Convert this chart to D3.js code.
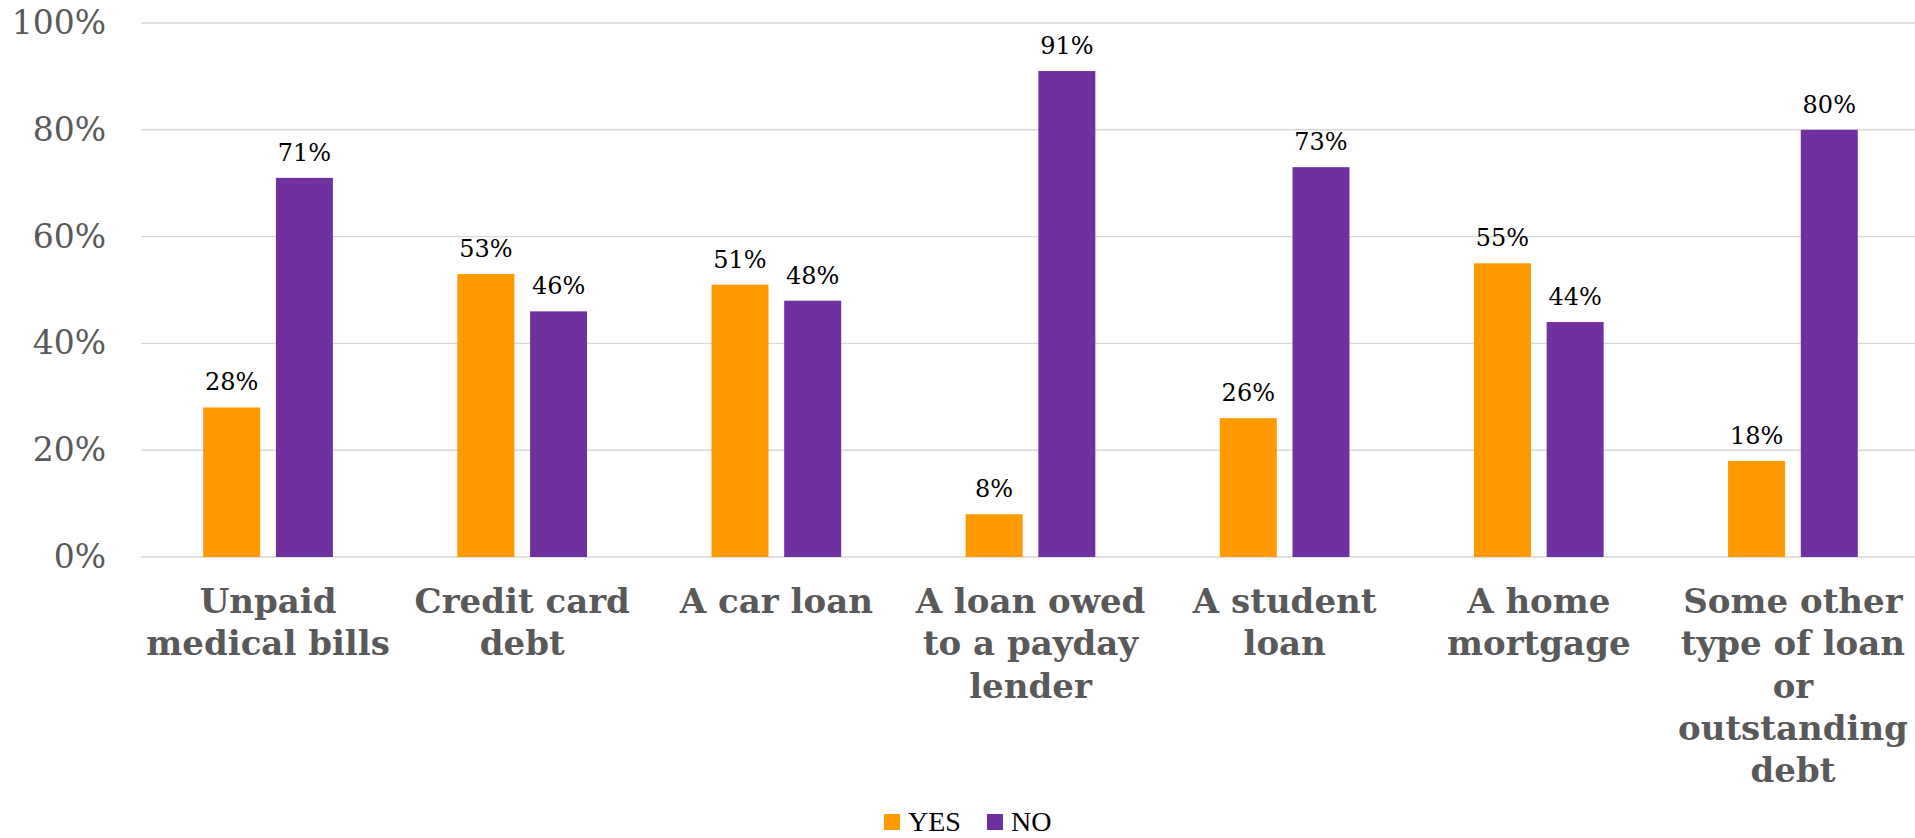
<!DOCTYPE html>
<html>
<head>
<meta charset="utf-8">
<script src="https://cdn.jsdelivr.net/npm/d3@7"></script>
<style>
  html, body { margin: 0; padding: 0; background: #fff; }
  svg { display: block; }
</style>
</head>
<body>
<svg id="chart" width="1915" height="838"></svg>
<script>
const categories = [
  "Unpaid\nmedical bills",
  "Credit card\ndebt",
  "A car loan",
  "A loan owed\nto a payday\nlender",
  "A student\nloan",
  "A home\nmortgage",
  "Some other\ntype of loan\nor\noutstanding\ndebt"
];
const seriesNames = ["YES", "NO"];
const yesValues = [28, 53, 51, 8, 26, 55, 18];
const noValues  = [71, 46, 48, 91, 73, 44, 80];
const yTicks = [0, 20, 40, 60, 80, 100];
const colors = ["#FF9900", "#7030A0"];

(function () {
const svg = d3.select("#chart");
const pLeft = 141, pRight = 1920, pTop = 23, pBottom = 557;

const x = d3.scaleBand().domain(d3.range(categories.length)).range([pLeft, pRight]).padding(0);
const xi = d3.scaleBand().domain(seriesNames).range([0, x.bandwidth()]).paddingInner(0.216).paddingOuter(0.856);
const y = d3.scaleLinear().domain([0, 100]).range([pBottom, pTop]);

// gridlines
svg.append("g").selectAll("line").data(yTicks).join("line")
  .attr("x1", pLeft).attr("x2", pRight)
  .attr("y1", d => y(d)).attr("y2", d => y(d))
  .attr("stroke", "#D9D9D9").attr("stroke-width", 1.4);

// y axis labels
const yAxis = d3.axisLeft(y).tickValues(yTicks).tickFormat(d => d + "%").tickSize(0).tickPadding(35);
const yg = svg.append("g").attr("transform", `translate(${pLeft},0)`).call(yAxis);
yg.select(".domain").remove();
yg.selectAll("text")
  .attr("font-family", "'DejaVu Serif', Georgia, serif")
  .attr("font-size", 33)
  .attr("fill", "#595959");

const data = categories.map((c, i) => ({ i, vals: [yesValues[i], noValues[i]] }));

const groups = svg.append("g").selectAll("g").data(data).join("g")
  .attr("transform", d => `translate(${x(d.i)},0)`);

groups.selectAll("rect").data(d => d.vals.map((v, k) => ({ v, k }))).join("rect")
  .attr("x", d => xi(seriesNames[d.k]))
  .attr("width", xi.bandwidth())
  .attr("y", d => y(d.v))
  .attr("height", d => y(0) - y(d.v))
  .attr("fill", d => colors[d.k]);

groups.selectAll("text.val").data(d => d.vals.map((v, k) => ({ v, k }))).join("text")
  .attr("class", "val")
  .attr("x", d => xi(seriesNames[d.k]) + xi.bandwidth() / 2)
  .attr("y", d => y(d.v) - 17)
  .attr("text-anchor", "middle")
  .attr("font-family", "'DejaVu Serif', Georgia, serif")
  .attr("font-size", 24)
  .attr("fill", "#000")
  .text(d => d.v + "%");

// category labels
const catG = svg.append("g").selectAll("text").data(data).join("text")
  .attr("text-anchor", "middle")
  .attr("font-family", "'DejaVu Serif', Georgia, serif")
  .attr("font-weight", "bold")
  .attr("font-size", 34)
  .attr("fill", "#595959")
  .attr("transform", d => `translate(${x(d.i) + x.bandwidth() / 2},613)`);
catG.each(function(d) {
  const lines = categories[d.i].split("\n");
  d3.select(this).selectAll("tspan").data(lines).join("tspan")
    .attr("x", 0)
    .attr("y", (l, j) => j * 42.3)
    .text(l => l);
});

// legend
const legend = svg.append("g").attr("transform", "translate(884,814)");
const legX = [0, 103];
seriesNames.forEach((s, k) => {
  const g = legend.append("g").attr("transform", `translate(${legX[k]},0)`);
  g.append("rect").attr("width", 16).attr("height", 16).attr("fill", colors[k]);
  g.append("text").attr("x", 24).attr("y", 17)
    .attr("font-family", "'Liberation Serif', 'Times New Roman', serif")
    .attr("font-size", 28)
    .attr("fill", "#000")
    .text(s);
});
})();
</script>
</body>
</html>
